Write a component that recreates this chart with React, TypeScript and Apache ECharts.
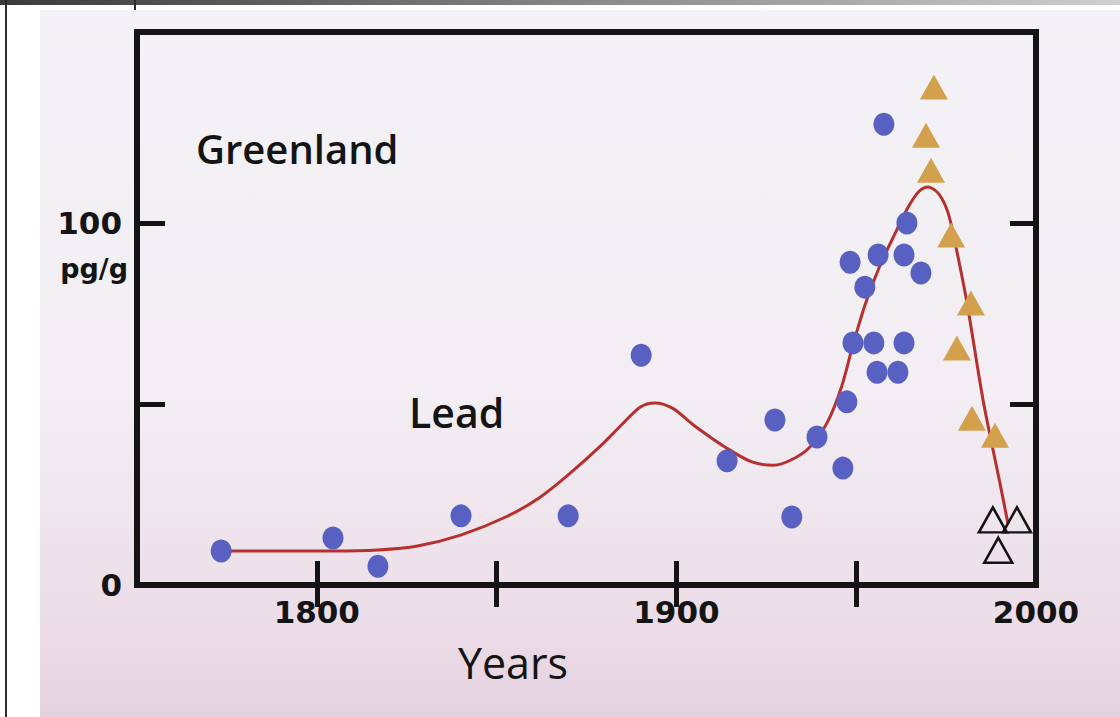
import React, { useEffect, useRef } from "react";
import * as echarts from "echarts";

// ---- data ----
const blueYears = [1773.4, 1804.5, 1817.0, 1840.1, 1869.9, 1890.2, 1914.1, 1927.4, 1932.1, 1939.1, 1946.3, 1947.4, 1949.1, 1954.9, 1955.8, 1961.6, 1963.3, 1948.3, 1952.4, 1956.1, 1963.3, 1968.0, 1964.1, 1957.7];
const blueValues = [9.4, 13.0, 5.2, 19.1, 19.1, 63.5, 34.3, 45.6, 18.8, 40.9, 32.3, 50.6, 66.9, 66.9, 58.8, 58.8, 66.9, 89.2, 82.3, 91.2, 91.2, 86.2, 100.0, 127.3];

const orangeYears = [1971.6, 1969.4, 1970.8, 1976.4, 1981.9, 1978.0, 1982.2, 1988.6];
const orangeValues = [137.6, 124.3, 114.6, 96.7, 77.9, 65.5, 46.1, 41.4];

const openYears = [1988.0, 1994.7, 1989.5];
const openValues = [18.0, 18.0, 9.6];

const curveYears = [1773.4, 1790, 1805, 1817, 1828, 1840, 1853, 1862, 1870, 1879, 1885, 1890, 1894, 1899, 1905, 1914, 1921, 1927, 1932, 1937, 1942, 1946, 1949, 1952.5, 1956.5, 1961, 1964.5, 1967.5, 1970, 1973, 1975.5, 1977.3, 1980.8, 1985.3, 1990, 1992.2];
const curveValues = [9.4, 9.4, 9.4, 9.7, 10.8, 13.8, 19.0, 24.2, 30.5, 38.5, 44.5, 49.2, 50.3, 48.8, 44.0, 37.8, 34.0, 33.1, 34.6, 38.0, 45.0, 55.0, 66.0, 77.5, 88.0, 97.5, 104.5, 108.8, 110.0, 108.0, 103.0, 95.5, 78.0, 51.0, 28.0, 17.0];

const xLabelValues = [1800, 1900, 2000];
const xTickValues = [1800, 1850, 1900, 1950];
const yLabelValues = [0, 100];
const yTickValues = [50, 100];

const FONT = "'Open Sans', 'DejaVu Sans', sans-serif";
const NUM_FONT = "'DejaVu Sans', 'Open Sans', sans-serif";

export default function App() {
  const ref = useRef<HTMLDivElement>(null);

  useEffect(() => {
    document.body.style.margin = "0";
    const chart = echarts.init(ref.current!, null, { renderer: "svg" });

    const pairs = (xs: number[], ys: number[]) => xs.map((x, i) => [x, ys[i]]);

    const tickStyle = { color: "#141414", width: 5 };

    chart.setOption({
      animation: false,
      backgroundColor: "#ffffff",
      grid: {
        left: 137,
        right: 84,
        top: 32,
        bottom: 132,
        show: true,
        borderColor: "#141414",
        borderWidth: 6,
        backgroundColor: "transparent",
      },
      xAxis: [
        {
          type: "value",
          position: "bottom",
          min: 1750,
          max: 2000,
          axisLine: { show: false },
          splitLine: { show: false },
          axisTick: { show: true, inside: true, length: 24, lineStyle: tickStyle, customValues: xTickValues },
          axisLabel: {
            customValues: xLabelValues,
            margin: 11,
            color: "#141414",
            fontFamily: NUM_FONT,
            fontWeight: "bold",
            fontSize: 31,
            formatter: (v: number) => String(v),
          },
        },
        {
          type: "value",
          position: "top",
          min: 1750,
          max: 2000,
          axisLine: { show: false },
          splitLine: { show: false },
          axisTick: { show: true, inside: true, length: 22, lineStyle: tickStyle, customValues: xTickValues },
          axisLabel: { show: false },
        },
      ],
      yAxis: [
        {
          type: "value",
          position: "left",
          min: 0,
          max: 152.8,
          axisLine: { show: false },
          splitLine: { show: false },
          axisTick: { show: true, inside: true, length: 28, lineStyle: tickStyle, customValues: yTickValues },
          axisLabel: {
            customValues: yLabelValues,
            margin: 15,
            color: "#141414",
            fontFamily: NUM_FONT,
            fontWeight: "bold",
            fontSize: 31,
            formatter: (v: number) => String(v),
          },
        },
        {
          type: "value",
          position: "right",
          min: 0,
          max: 152.8,
          axisLine: { show: false },
          splitLine: { show: false },
          axisTick: { show: true, inside: true, length: 26, lineStyle: tickStyle, customValues: yTickValues },
          axisLabel: { show: false },
        },
      ],
      graphic: [
        {
          type: "rect",
          z: -10,
          silent: true,
          shape: { x: 40, y: 10, width: 1080, height: 707 },
          style: {
            fill: new echarts.graphic.LinearGradient(0, 0, 0, 1, [
              { offset: 0, color: "#f4f2f6" },
              { offset: 0.55, color: "#f2eef3" },
              { offset: 0.85, color: "#ecdee8" },
              { offset: 1, color: "#e5d2e0" },
            ]),
          },
        },
        {
          type: "rect",
          z: -5,
          silent: true,
          shape: { x: 0, y: 0, width: 1120, height: 5 },
          style: {
            fill: new echarts.graphic.LinearGradient(0, 0, 1, 0, [
              { offset: 0, color: "#3a3a3a" },
              { offset: 1, color: "#cfcfcf" },
            ]),
          },
        },
        { type: "rect", z: -5, silent: true, shape: { x: 5, y: 0, width: 2, height: 717 }, style: { fill: "#2a2a2a" } },
        { type: "rect", z: -5, silent: true, shape: { x: 134, y: 0, width: 2, height: 10 }, style: { fill: "#2a2a2a" } },
        {
          type: "text",
          style: { text: "Greenland", x: 196, y: 148, fill: "#141414", font: `600 40px ${FONT}`, align: "left", verticalAlign: "middle" },
        },
        {
          type: "text",
          style: { text: "Lead", x: 409, y: 412, fill: "#141414", font: `600 41px ${FONT}`, align: "left", verticalAlign: "middle" },
        },
        {
          type: "text",
          style: { text: "Years", x: 513, y: 662, fill: "#141414", font: `500 43px ${FONT}`, align: "center", verticalAlign: "middle" },
        },
        {
          type: "text",
          style: { text: "pg/g", x: 128, y: 268, fill: "#141414", font: `bold 27px ${NUM_FONT}`, align: "right", verticalAlign: "middle" },
        },
      ],
      series: [
        {
          type: "line",
          xAxisIndex: 0,
          yAxisIndex: 0,
          data: pairs(curveYears, curveValues),
          smooth: 0.3,
          showSymbol: false,
          symbol: "none",
          lineStyle: { color: "#b5302e", width: 3 },
          z: 3,
        },
        {
          type: "scatter",
          xAxisIndex: 0,
          yAxisIndex: 0,
          data: pairs(blueYears, blueValues),
          symbol: "circle",
          symbolSize: [21, 23],
          itemStyle: { color: "#5861c2", opacity: 1 },
          z: 4,
        },
        {
          type: "scatter",
          xAxisIndex: 0,
          yAxisIndex: 0,
          data: pairs(orangeYears, orangeValues),
          symbol: "triangle",
          symbolSize: [28, 25],
          itemStyle: { color: "#d3a04e", opacity: 1 },
          z: 4,
        },
        {
          type: "scatter",
          xAxisIndex: 0,
          yAxisIndex: 0,
          data: pairs(openYears, openValues),
          symbol: "triangle",
          symbolSize: [28, 25],
          itemStyle: { color: "rgba(0,0,0,0)", borderColor: "#141414", borderWidth: 2.5, opacity: 1 },
          z: 5,
        },
      ],
    });

    return () => chart.dispose();
  }, []);

  return <div ref={ref} style={{ position: "fixed", left: 0, top: 0, width: 1120, height: 717 }} />;
}
